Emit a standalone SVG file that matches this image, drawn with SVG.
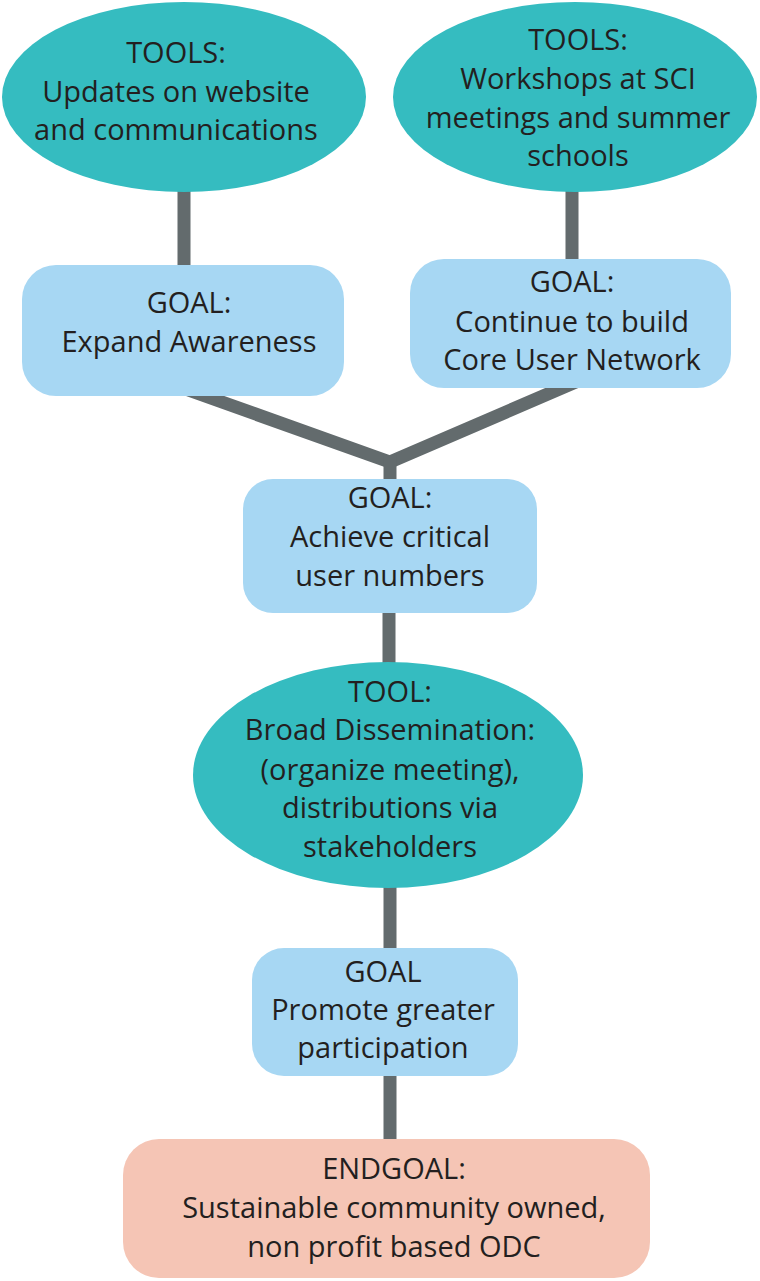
<svg xmlns="http://www.w3.org/2000/svg" width="760" height="1281" viewBox="0 0 760 1281">
<style>
.tool{fill:#35bcc0}
.goal{fill:#a7d7f3}
.end{fill:#f5c5b5}
.con{stroke:#636b6d;stroke-width:13;fill:none}
text{font-family:"Open Sans","Liberation Sans",sans-serif;font-size:29px;fill:#231f20;text-anchor:middle}
</style>
<rect width="760" height="1281" fill="#ffffff"/>
<g id="connectors">
<path class="con" d="M184,150 V300"/>
<path class="con" d="M572,150 V300"/>
<path class="con" d="M177,386 L390,462 L585,378"/>
<path class="con" d="M390,455 V500"/>
<path class="con" d="M389,590 V700"/>
<path class="con" d="M390,860 V990"/>
<path class="con" d="M390,1050 V1170"/>
</g>
<g id="tools1">
<ellipse class="tool" cx="184" cy="97" rx="182" ry="95"/>
<text x="176" y="63">TOOLS:</text>
<text x="176" y="102">Updates on website</text>
<text x="176" y="140">and communications</text>
</g>
<g id="tools2">
<ellipse class="tool" cx="575" cy="97" rx="182" ry="95"/>
<text x="578" y="50">TOOLS:</text>
<text x="578" y="89">Workshops at SCI</text>
<text x="578" y="128">meetings and summer</text>
<text x="578" y="166">schools</text>
</g>
<g id="goal1">
<rect class="goal" x="22" y="265" width="322" height="131" rx="34"/>
<text x="189" y="313">GOAL:</text>
<text x="189" y="352">Expand Awareness</text>
</g>
<g id="goal2">
<rect class="goal" x="410" y="259" width="321" height="129" rx="34"/>
<text x="572" y="292">GOAL:</text>
<text x="572" y="332">Continue to build</text>
<text x="572" y="370">Core User Network</text>
</g>
<g id="goal3">
<rect class="goal" x="243" y="479" width="294" height="134" rx="30"/>
<text x="390" y="508">GOAL:</text>
<text x="390" y="547">Achieve critical</text>
<text x="390" y="586">user numbers</text>
</g>
<g id="tool3">
<ellipse class="tool" cx="388" cy="775" rx="195" ry="113"/>
<text x="390" y="702">TOOL:</text>
<text x="390" y="740">Broad Dissemination:</text>
<text x="390" y="780">(organize meeting),</text>
<text x="390" y="818">distributions via</text>
<text x="390" y="857">stakeholders</text>
</g>
<g id="goal4">
<rect class="goal" x="252" y="948" width="266" height="128" rx="32"/>
<text x="383" y="982">GOAL</text>
<text x="383" y="1020">Promote greater</text>
<text x="383" y="1058">participation</text>
</g>
<g id="endgoal">
<rect class="end" x="123" y="1139" width="527" height="139" rx="36"/>
<text x="394" y="1179">ENDGOAL:</text>
<text x="394" y="1218">Sustainable community owned,</text>
<text x="394" y="1257">non profit based ODC</text>
</g>
</svg>
